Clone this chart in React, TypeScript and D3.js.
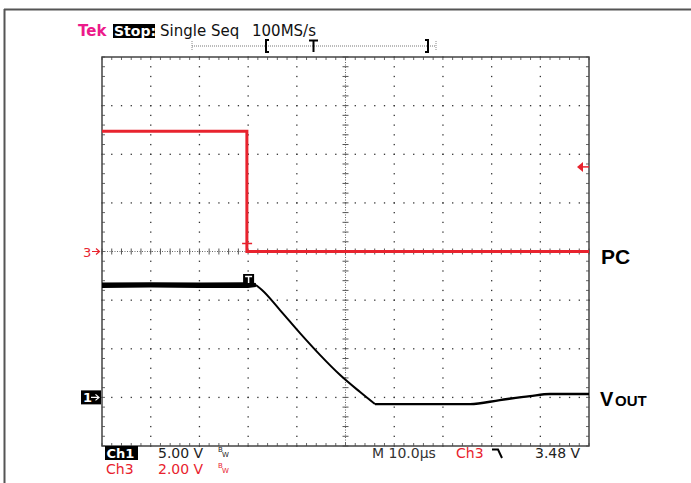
import React from "react";
import * as d3 from "d3";

// ---- data ----
// time in µs (M 10.0µs/div, trigger at 3rd division), volts
const ch1FlatTime = [-30, 1.6];
const ch1FlatVolts = [11.55, 11.55];
const ch1FallTime = [1.6, 2.85, 6.55, 10.66, 14.8, 18.9, 23.0, 26.06];
const ch1FallVolts = [11.55, 11.04, 8.98, 6.61, 4.35, 2.3, 0.55, -0.69];
const ch1TailTime = [26.06, 45.6, 51.7, 57.9, 62.0, 69.2, 70];
const ch1TailVolts = [-0.69, -0.69, -0.28, 0.13, 0.34, 0.34, 0.34];
// noisy flat part envelope of Ch1
const ch1NoiseTime = [-30, -20, -10, 0, 1.6];
const ch1NoiseHi = [11.8, 11.85, 11.8, 11.85, 11.75];
const ch1NoiseLo = [11.25, 11.3, 11.25, 11.25, 11.35];
const ch3Time = [-30, -0.25, -0.25, 70];
const ch3Volts = [4.95, 4.95, 0, 0];

const ch1VoltsPerDiv = 5;
const ch3VoltsPerDiv = 2;
const ch1GroundDiv = -3;
const ch3GroundDiv = 0;
const triggerLevel = 3.48;

const headerLabels = ["Tek", "Stop:", "Single Seq", "100MS/s"];
const bottomRow1 = ["Ch1", "5.00 V", "M 10.0µs", "Ch3", "3.48 V"];
const bottomRow2 = ["Ch3", "2.00 V"];

const W = 691;
const H = 483;
const L = 102, R = 589, T = 57, B = 446;

const RED = "#e8232e";
const PINK = "#ec1a8a";
const FONT = "'DejaVu Sans', Verdana, sans-serif";

export default function App() {
  const x = d3.scaleLinear().domain([-30, 70]).range([L, R]);
  const yDiv = d3.scaleLinear().domain([-4, 4]).range([B, T]);
  const y1 = (v: number) => yDiv(v / ch1VoltsPerDiv + ch1GroundDiv);
  const y3 = (v: number) => yDiv(v / ch3VoltsPerDiv + ch3GroundDiv);
  const divX = d3.scaleLinear().domain([0, 10]).range([L, R]);

  const mkLine = (times: number[], volts: number[], curve: d3.CurveFactory) =>
    d3
      .line<number>()
      .x((d, i) => x(times[i]))
      .y((d) => y1(d))
      .curve(curve)(volts) || "";
  const line3 = d3.line<number>().x((d, i) => x(ch3Time[i])).y((d) => y3(d));
  const noiseArea = d3
    .area<number>()
    .x((d, i) => x(ch1NoiseTime[i]))
    .y0((d, i) => y1(ch1NoiseLo[i]))
    .y1((d) => y1(d));

  // grid
  const grid: JSX.Element[] = [];
  const minorX = d3.range(0, 50.001, 1).map((k) => divX(k / 5));
  const minorY = d3.range(-20, 20.001, 1).map((k) => yDiv(k / 5));
  for (let i = 1; i < 10; i++) {
    if (i === 5) continue;
    const gx = divX(i);
    minorY.forEach((gy, k) =>
      grid.push(<rect key={`v${i}-${k}`} x={gx - 0.6} y={gy - 0.6} width={1.3} height={1.3} fill="#333" />)
    );
  }
  for (let j = -3; j <= 3; j++) {
    if (j === 0) continue;
    const gy = yDiv(j);
    minorX.forEach((gx, k) =>
      grid.push(<rect key={`h${j}-${k}`} x={gx - 0.6} y={gy - 0.6} width={1.3} height={1.3} fill="#333" />)
    );
  }
  const cx = divX(5);
  const cy = yDiv(0);
  grid.push(<line key="cxl" x1={cx} x2={cx} y1={T} y2={B} stroke="#666" strokeWidth={1} strokeDasharray="1,1.5" />);
  grid.push(<line key="cyl" x1={L} x2={R} y1={cy} y2={cy} stroke="#666" strokeWidth={1} strokeDasharray="1,1.5" />);
  minorX.forEach((gx, k) => {
    grid.push(<line key={`cxt${k}`} x1={gx} x2={gx} y1={cy - 3} y2={cy + 3} stroke="#555" strokeWidth={1} />);
    grid.push(<line key={`bt${k}`} x1={gx} x2={gx} y1={B - 3} y2={B} stroke="#666" strokeWidth={1} />);
    grid.push(<line key={`tt${k}`} x1={gx} x2={gx} y1={T} y2={T + 3} stroke="#666" strokeWidth={1} />);
  });
  minorY.forEach((gy, k) => {
    grid.push(<line key={`cyt${k}`} x1={cx - 3} x2={cx + 3} y1={gy} y2={gy} stroke="#555" strokeWidth={1} />);
    grid.push(<line key={`lt${k}`} x1={L} x2={L + 3} y1={gy} y2={gy} stroke="#666" strokeWidth={1} />);
    grid.push(<line key={`rt${k}`} x1={R - 3} x2={R} y1={gy} y2={gy} stroke="#666" strokeWidth={1} />);
  });

  const t0 = x(0);
  const ch1Gnd = yDiv(ch1GroundDiv);
  const ch3Gnd = yDiv(ch3GroundDiv);
  const trigY = y3(triggerLevel);

  return (
    <svg width={W} height={H} style={{ position: "absolute", left: 0, top: 0, background: "#fff" }}>
      {/* outer frame */}
      <line x1={4} x2={W} y1={9.5} y2={9.5} stroke="#555" strokeWidth={2} />
      <line x1={4.5} x2={4.5} y1={9} y2={H} stroke="#555" strokeWidth={2} />

      {/* header */}
      <g fontFamily={FONT} fontSize={15}>
        <text x={78} y={36} fill={PINK} fontWeight="bold">{headerLabels[0]}</text>
        <rect x={113} y={24} width={42} height={14} fill="#000" />
        <text x={114} y={36} fill="#fff" fontWeight="bold" fontSize={14}>{headerLabels[1]}</text>
        <text x={160} y={36} fill="#111">{headerLabels[2]}</text>
        <text x={252} y={36} fill="#111">{headerLabels[3]}</text>
      </g>
      {/* record bar */}
      <g stroke="#000">
        <line x1={192} x2={436} y1={46} y2={46} stroke="#777" strokeDasharray="1,1" />
        <line x1={192} x2={192} y1={41} y2={51} stroke="#888" strokeDasharray="1,1" />
        <line x1={436} x2={436} y1={41} y2={51} stroke="#888" strokeDasharray="1,1" />
        <path d="M269,40 H266 V52 H269" fill="none" strokeWidth={2} />
        <path d="M309,40.5 H318 M313.5,40 V52" fill="none" strokeWidth={2} />
        <path d="M425,40 H428 V52 H425" fill="none" strokeWidth={2} />
      </g>

      {/* graticule */}
      <g>{grid}</g>
      <rect x={L} y={T} width={R - L} height={B - T} fill="none" stroke="#444" strokeWidth={1.5} />

      {/* Ch3 (red) trace */}
      <path d={line3(ch3Volts) || ""} fill="none" stroke={RED} strokeWidth={3} />
      <path d={`M${t0 - 6},${ch3Gnd - 8} H${t0 + 4} M${t0 - 1},${ch3Gnd - 8} V${ch3Gnd}`} fill="none" stroke={RED} strokeWidth={1.5} />

      {/* Ch1 (black) trace */}
      <path d={noiseArea(ch1NoiseHi) || ""} fill="#000" />
      <path d={mkLine(ch1FlatTime, ch1FlatVolts, d3.curveLinear)} fill="none" stroke="#000" strokeWidth={2.2} />
      <path d={mkLine(ch1FallTime, ch1FallVolts, d3.curveMonotoneX)} fill="none" stroke="#000" strokeWidth={2} strokeLinejoin="round" />
      <path d={mkLine(ch1TailTime, ch1TailVolts, d3.curveMonotoneX)} fill="none" stroke="#000" strokeWidth={2.4} strokeLinejoin="round" />
      {/* trigger marker on Ch1 */}
      <rect x={t0 - 5} y={274} width={11} height={10} fill="#000" />
      <path d={`M${t0 - 3},${276.5} H${t0 + 4} M${t0 + 0.5},${276} V${283}`} stroke="#fff" strokeWidth={1.5} />

      {/* ground markers */}
      <text x={83} y={ch3Gnd + 5} fill={RED} fontFamily={FONT} fontSize={13}>3</text>
      <path d={`M92,${ch3Gnd} H99 M96,${ch3Gnd - 3} L99.5,${ch3Gnd} L96,${ch3Gnd + 3}`} stroke={RED} strokeWidth={1.2} fill="none" />
      <rect x={81} y={ch1Gnd - 7} width={20} height={14} fill="#000" />
      <text x={83} y={ch1Gnd + 5} fill="#fff" fontFamily={FONT} fontSize={13} fontWeight="bold">1</text>
      <path d={`M91,${ch1Gnd} H99 M95.5,${ch1Gnd - 3} L99,${ch1Gnd} L95.5,${ch1Gnd + 3}`} stroke="#fff" strokeWidth={1.2} fill="none" />

      {/* trigger level arrow */}
      <path d={`M${R - 12},${trigY} L${R - 6},${trigY - 5} L${R - 6},${trigY + 5} Z`} fill={RED} />
      <line x1={R - 7} x2={R} y1={trigY} y2={trigY} stroke={RED} strokeWidth={1.5} />

      {/* right labels */}
      <text x={601} y={264} fontFamily="'Liberation Sans', Arial, sans-serif" fontWeight="bold" fontSize={21} fill="#000">PC</text>
      <text x={600} y={406} fontFamily="'Liberation Sans', Arial, sans-serif" fontWeight="bold" fontSize={20} fill="#000">V</text>
      <text x={615} y={406} fontFamily="'Liberation Sans', Arial, sans-serif" fontWeight="bold" fontSize={15} fill="#000">OUT</text>

      {/* bottom readouts */}
      <g fontFamily={FONT} fontSize={13.5}>
        <rect x={105} y={446} width={33} height={14} fill="#000" />
        <text x={106.5} y={458} fill="#fff" fontWeight="bold" fontSize={13}>{bottomRow1[0]}</text>
        <text x={158} y={458} fill="#222" fontSize={14}>{bottomRow1[1]}</text>
        <text x={218} y={452} fill="#222" fontSize={7}>B</text>
        <text x={222} y={457} fill="#222" fontSize={7}>W</text>
        <text x={372} y={458} fill="#333" fontSize={14}>{bottomRow1[2]}</text>
        <text x={456} y={458} fill={RED} fontSize={14}>{bottomRow1[3]}</text>
        <path d="M492,449.5 H498 L502,458" fill="none" stroke="#000" strokeWidth={2} />
        <text x={535} y={458} fill="#222" fontSize={14}>{bottomRow1[4]}</text>

        <text x={106} y={474} fill={RED} fontSize={14}>{bottomRow2[0]}</text>
        <text x={158} y={474} fill={RED} fontSize={14}>{bottomRow2[1]}</text>
        <text x={218} y={468} fill={RED} fontSize={7}>B</text>
        <text x={222} y={473} fill={RED} fontSize={7}>W</text>
      </g>
    </svg>
  );
}
